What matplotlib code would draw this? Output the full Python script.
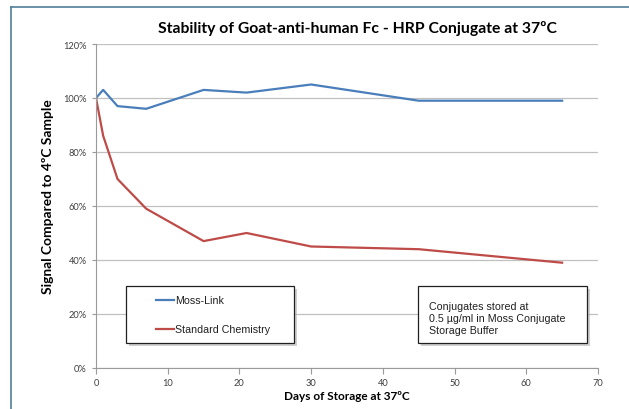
import matplotlib
matplotlib.use('Agg')
import matplotlib.pyplot as plt
from matplotlib.patches import Rectangle
from matplotlib.lines import Line2D
from matplotlib.ticker import PercentFormatter

# days of storage and signal (% of 4C sample)
days = [0, 1, 3, 7, 15, 21, 30, 45, 65]
moss_link = [100, 103, 97, 96, 103, 102, 105, 99, 99]
standard = [100, 86, 70, 59, 47, 50, 45, 44, 39]

x_ticks = [0, 10, 20, 30, 40, 50, 60, 70]
y_ticks = [0, 20, 40, 60, 80, 100, 120]

blue = '#4a7ebb'
red = '#be4b48'
W, H = 629, 410

fig = plt.figure(figsize=(W / 100, H / 100), dpi=100)
ax = fig.add_axes([96 / W, 1 - 369 / H, 502 / W, 324 / H])

ax.plot(days, moss_link, color=blue, lw=1.6)
ax.plot(days, standard, color=red, lw=1.6)

ax.set_xlim(0, 70)
ax.set_ylim(0, 120)
ax.set_xticks(x_ticks)
ax.set_yticks(y_ticks)
ax.yaxis.set_major_formatter(PercentFormatter(decimals=0))
ax.grid(axis='y', color='#c0c0c0', lw=0.9)
ax.set_axisbelow(True)
for s in ['top', 'right']:
    ax.spines[s].set_visible(False)
for s in ['left', 'bottom']:
    ax.spines[s].set_color('#9a9a9a')
    ax.spines[s].set_linewidth(0.8)
ax.tick_params(axis='both', labelsize=6.7, colors='#9a9a9a', labelcolor='#404040',
               length=4, width=0.8)
ax.tick_params(axis='y', length=3)
for lab in ax.get_xticklabels() + ax.get_yticklabels():
    lab.set_family('Lato')

fig.text(357 / W, 1 - 29 / H, 'Stability of Goat-anti-human Fc - HRP Conjugate at 37ºC',
         ha='center', va='center', fontsize=11.3, fontweight='bold', family='Lato')
fig.text(347 / W, 1 - 397 / H, 'Days of Storage at 37ºC', ha='center', va='center',
         fontsize=8.5, fontweight='bold', family='Lato')
fig.text(48 / W, 1 - 197 / H, 'Signal Compared to 4ºC Sample', ha='center', va='center',
         rotation=90, fontsize=9.9, fontweight='bold', family='Lato')


def box(x0, y0, x1, y1):
    # shadow then box, in pixel coords
    fig.patches.append(Rectangle((x0 / W + 3 / W, 1 - y1 / H - 3 / H), (x1 - x0) / W,
                                 (y1 - y0) / H, transform=fig.transFigure,
                                 facecolor='#b0b0b0', edgecolor='none', alpha=0.6, zorder=5))
    fig.patches.append(Rectangle((x0 / W, 1 - y1 / H), (x1 - x0) / W, (y1 - y0) / H,
                                 transform=fig.transFigure, facecolor='white',
                                 edgecolor='#202020', lw=0.9, zorder=6))


box(126, 287, 294, 344)
box(418, 287, 587, 344)

for yy, col, txt in [(301, blue, 'Moss-Link'), (330, red, 'Standard Chemistry')]:
    fig.lines.append(Line2D([156 / W, 174 / W], [1 - yy / H] * 2, transform=fig.transFigure,
                            color=col, lw=1.6, zorder=7))
    fig.text(175 / W, 1 - yy / H, txt, ha='left', va='center', fontsize=7.7,
             family='Liberation Sans', color='#202020', zorder=7)

fig.text(429 / W, 1 - 302 / H, 'Conjugates stored at\n0.5 µg/ml in Moss Conjugate\nStorage Buffer',
         ha='left', va='top', fontsize=7.7, family='Liberation Sans', color='#202020',
         linespacing=1.25, zorder=7)

# outer frame (top and left edges only)
fig.lines.append(Line2D([11 / W, 1], [1 - 8 / H] * 2, transform=fig.transFigure,
                        color='#4f7f9a', lw=1.2))
fig.lines.append(Line2D([11 / W] * 2, [1 - 8 / H, 0], transform=fig.transFigure,
                        color='#4f7f9a', lw=1.2))

fig.savefig('out.png', dpi=100)
